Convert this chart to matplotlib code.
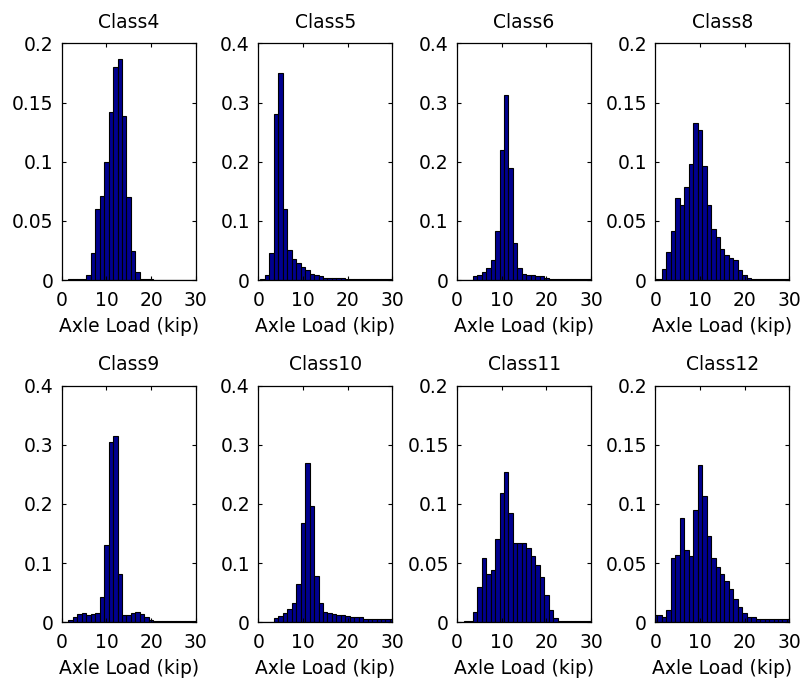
import matplotlib
matplotlib.use("Agg")
import matplotlib.pyplot as plt
import numpy as np

# ---------------------------------
# DATA  (relative frequency, 1 kip bins centred on 0..30)
# ---------------------------------
bin_centers = np.arange(31)

titles = ["Class4", "Class5", "Class6", "Class8",
          "Class9", "Class10", "Class11", "Class12"]

class4 = [0, 0, 0.001, 0.001, 0.001, 0.001, 0.004, 0.023, 0.06, 0.071, 0.10,
          0.142, 0.18, 0.187, 0.139, 0.07, 0.0245, 0.007, 0.001, 0.0005, 0.0005,
          0, 0, 0, 0, 0, 0, 0, 0, 0, 0]
class5 = [0, 0.001, 0.008, 0.046, 0.28, 0.35, 0.12, 0.05, 0.035, 0.029, 0.022,
          0.017, 0.011, 0.008, 0.006, 0.004, 0.004, 0.004, 0.004, 0.003, 0.002,
          0.001, 0.001, 0.001, 0.001, 0.001, 0.001, 0.001, 0.001, 0.001, 0.001]
class6 = [0, 0, 0, 0, 0.006, 0.008, 0.014, 0.02, 0.034, 0.083, 0.22,
          0.313, 0.19, 0.063, 0.021, 0.011, 0.008, 0.008, 0.007, 0.006, 0.003,
          0.002, 0.002, 0.002, 0.002, 0.002, 0.002, 0.002, 0.002, 0.002, 0.002]
class8 = [0.001, 0.001, 0.009, 0.024, 0.041, 0.069, 0.063, 0.079, 0.098, 0.133, 0.127,
          0.096, 0.063, 0.043, 0.036, 0.026, 0.021, 0.019, 0.017, 0.0085, 0.0045,
          0.002, 0.001, 0.0005, 0.0005, 0.0005, 0.0005, 0.0005, 0.0005, 0.0005, 0.0005]
class9 = [0, 0, 0.004, 0.0085, 0.0135, 0.015, 0.0125, 0.014, 0.015, 0.042, 0.131,
          0.305, 0.315, 0.081, 0.0125, 0.0125, 0.015, 0.017, 0.014, 0.0085, 0.004,
          0.002, 0.002, 0.002, 0.002, 0.002, 0.002, 0.002, 0.002, 0.002, 0.002]
class10 = [0, 0, 0, 0, 0.007, 0.011, 0.016, 0.022, 0.033, 0.065, 0.167,
           0.269, 0.196, 0.079, 0.033, 0.018, 0.015, 0.0135, 0.0125, 0.0125, 0.011,
           0.0095, 0.0095, 0.0095, 0.006, 0.006, 0.006, 0.006, 0.006, 0.006, 0.006]
class11 = [0, 0, 0.0015, 0.0015, 0.009, 0.0295, 0.054, 0.041, 0.044, 0.07, 0.109,
           0.127, 0.0925, 0.067, 0.067, 0.067, 0.063, 0.056, 0.0487, 0.038, 0.023,
           0.0105, 0.0034, 0.0015, 0.0015, 0.0015, 0.0015, 0.0015, 0.0015, 0.0015, 0.0015]
class12 = [0.006, 0.006, 0.0048, 0.0105, 0.054, 0.057, 0.088, 0.061, 0.056, 0.095, 0.133,
           0.107, 0.073, 0.054, 0.047, 0.041, 0.035, 0.028, 0.020, 0.013, 0.0076,
           0.0048, 0.0048, 0.0025, 0.0025, 0.0025, 0.0025, 0.0025, 0.0025, 0.0025, 0.0025]

all_classes = [class4, class5, class6, class8, class9, class10, class11, class12]
y_max = [0.2, 0.4, 0.4, 0.2, 0.4, 0.4, 0.2, 0.2]

# ---------------------------------
# FIGURE
# ---------------------------------
plt.rcParams['font.family'] = ['DejaVu Sans']
fs = 13.5

fig = plt.figure(figsize=(8.02, 6.88), dpi=100)

lefts = [0.077, 0.322, 0.570, 0.817]
bottoms = [0.593, 0.0955]
width, height = 0.167, 0.344

for k, (vals, title, ym) in enumerate(zip(all_classes, titles, y_max)):
    ax = fig.add_axes([lefts[k % 4], bottoms[k // 4], width, height])
    ax.bar(bin_centers, vals, width=1.0, color="#00008f",
           edgecolor="black", linewidth=0.8)
    ax.set_xlim(0, 30)
    ax.set_ylim(0, ym)
    ax.set_xticks([0, 10, 20, 30])
    step = 0.05 if ym < 0.3 else 0.1
    ax.set_yticks(np.round(np.arange(0, ym + 1e-9, step), 2))
    ax.yaxis.set_major_formatter(matplotlib.ticker.FormatStrFormatter('%g'))
    ax.tick_params(direction="in", length=3, width=0.8, top=True, right=True,
                   labelsize=fs)
    ax.tick_params(axis="x", pad=8)
    ax.tick_params(axis="y", pad=6)
    for s in ax.spines.values():
        s.set_linewidth(0.9)
    ax.set_title(title, fontsize=fs, pad=11)
    ax.set_xlabel("Axle Load (kip)", fontsize=fs, labelpad=5)

fig.savefig("out.png", dpi=100)
